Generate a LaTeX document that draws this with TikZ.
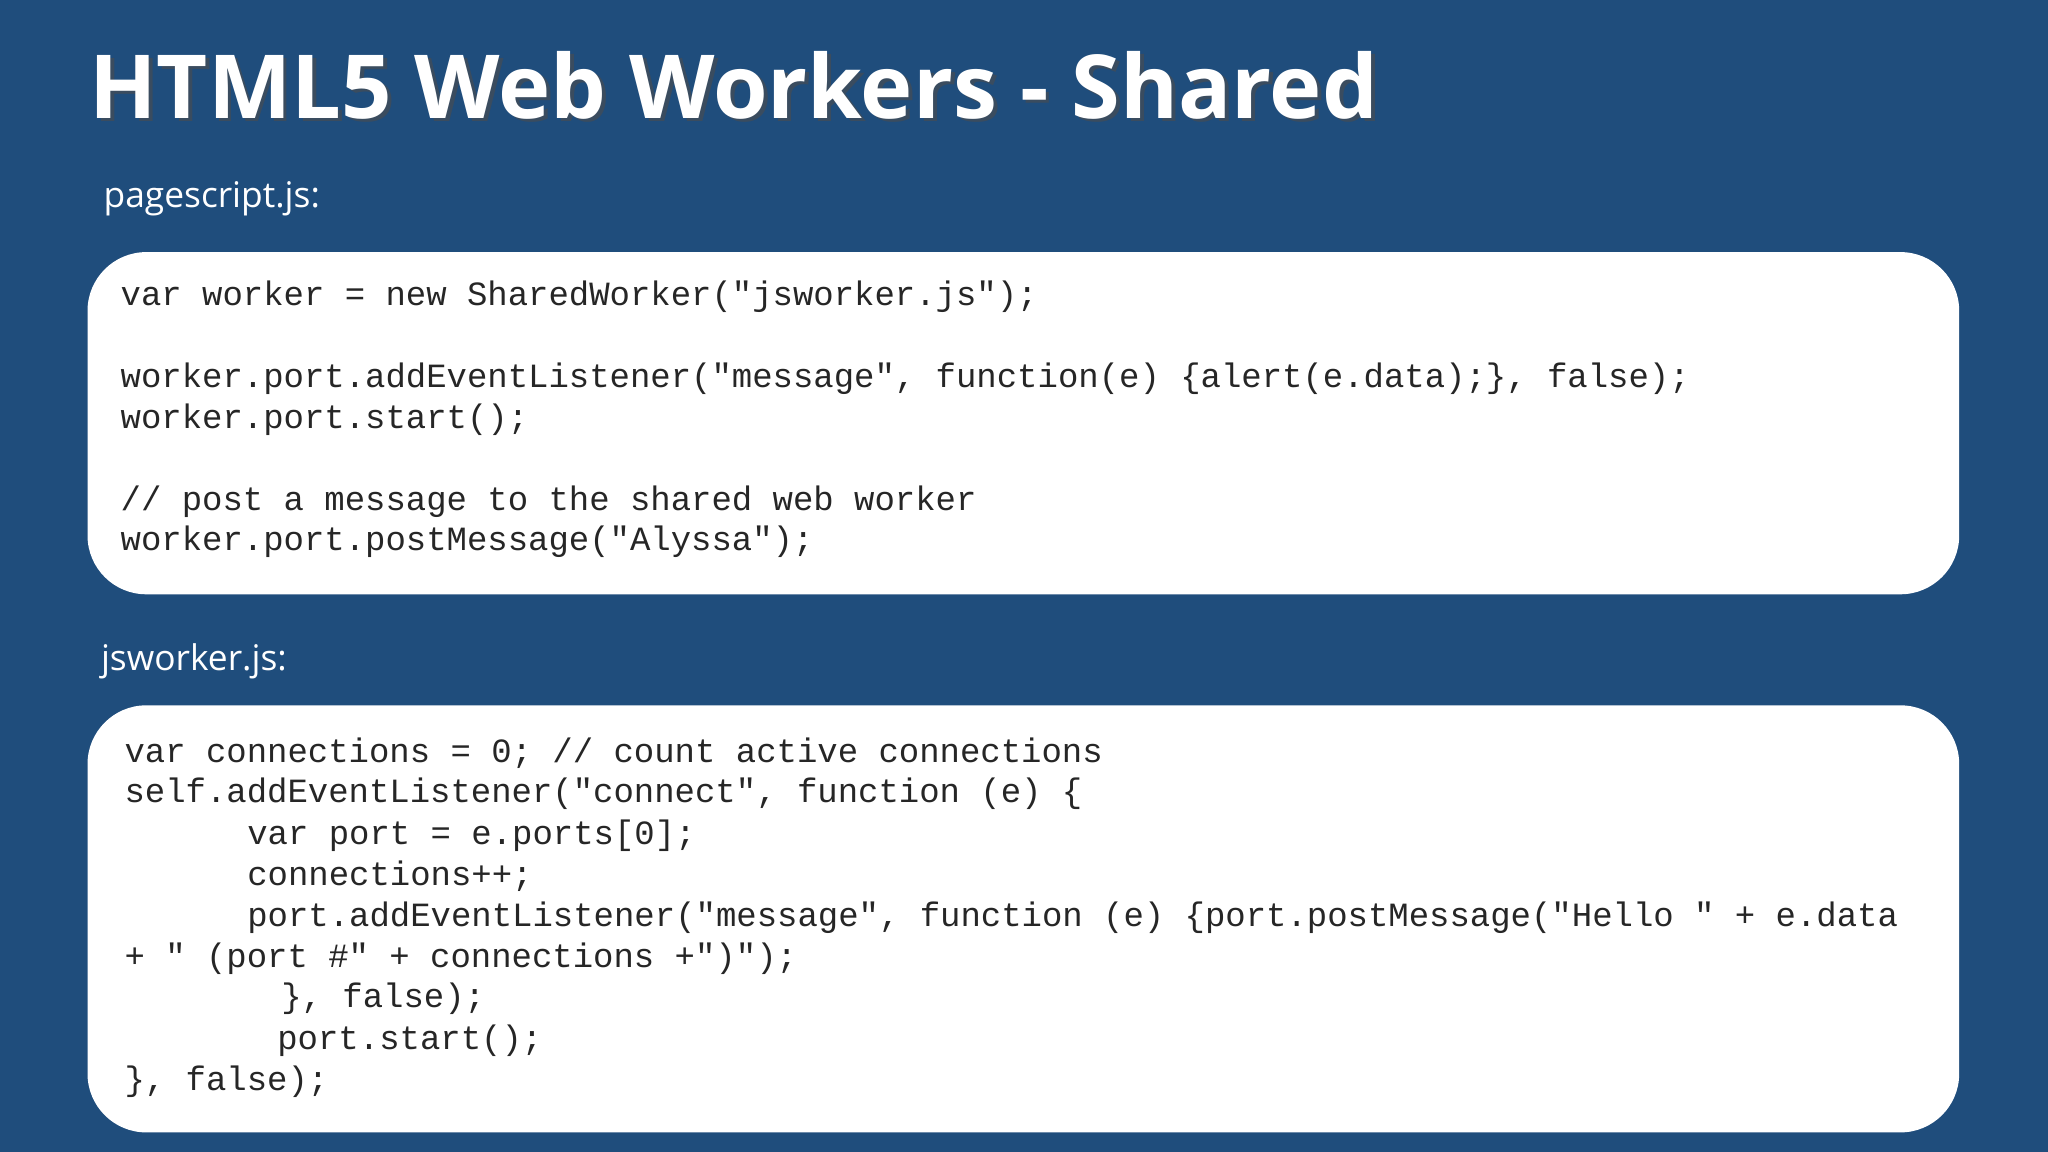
\documentclass[tikz,border=0pt]{standalone}
\usepackage{fontspec}
\setsansfont{Open Sans}
\setmonofont{Liberation Mono}
\begin{document}
\begin{tikzpicture}[x=0.02cm,y=-0.02cm,
  code/.style={anchor=west,inner sep=0,font=\ttfamily\fontsize{14.8}{17}\selectfont,text=black!85},
  lbl/.style={anchor=west,inner sep=0,font=\sffamily\fontsize{15.4}{18}\selectfont,text=white},
  ttl/.style={anchor=west,inner sep=0,font=\sffamily\bfseries\fontsize{38.5}{44}\selectfont},
  box/.style={fill=white,rounded corners=0.9cm}]
\definecolor{bg}{HTML}{1F4D7C}
\fill[bg] (0,0) rectangle (1568,882);
\useasboundingbox (0,0) rectangle (1568,882);
\node[ttl,text=black!70,opacity=0.6] (tsh) at (71,68) {HTML5 Web Workers - Shared};
\node[ttl,text=white] (title) at (68,65) {HTML5 Web Workers - Shared};
\node[lbl] (l1) at (79,152) {pagescript.js:};
\node[lbl] (l2) at (77,506) {jsworker.js:};
\fill[box] (67,193) rectangle (1500,455);
\fill[box] (67,540) rectangle (1500,867);
\node[code] (a1) at (92,227) {var worker = new SharedWorker("jsworker.js");};
\node[code] (a2) at (92,290) {worker.port.addEventListener("message", function(e) \{alert(e.data);\}, false);};
\node[code] (a3) at (92,321) {worker.port.start();};
\node[code] (a4) at (92,384) {// post a message to the shared web worker};
\node[code] (a5) at (92,415) {worker.port.postMessage("Alyssa");};
\node[code] (b1) at (95,577) {var connections = 0; // count active connections};
\node[code] (b2) at (95,608) {self.addEventListener("connect", function (e) \{};
\node[code] (b3) at (189,640) {var port = e.ports[0];};
\node[code] (b4) at (189,671) {connections++;};
\node[code] (b5) at (189,703) {port.addEventListener("message", function (e) \{port.postMessage("Hello " + e.data};
\node[code] (b6) at (95,734) {+ " (port \#" + connections +")");};
\node[code] (b7) at (215,765) {\}, false);};
\node[code] (b8) at (212,797) {port.start();};
\node[code] (b9) at (95,828) {\}, false);};
\end{tikzpicture}
\end{document}
